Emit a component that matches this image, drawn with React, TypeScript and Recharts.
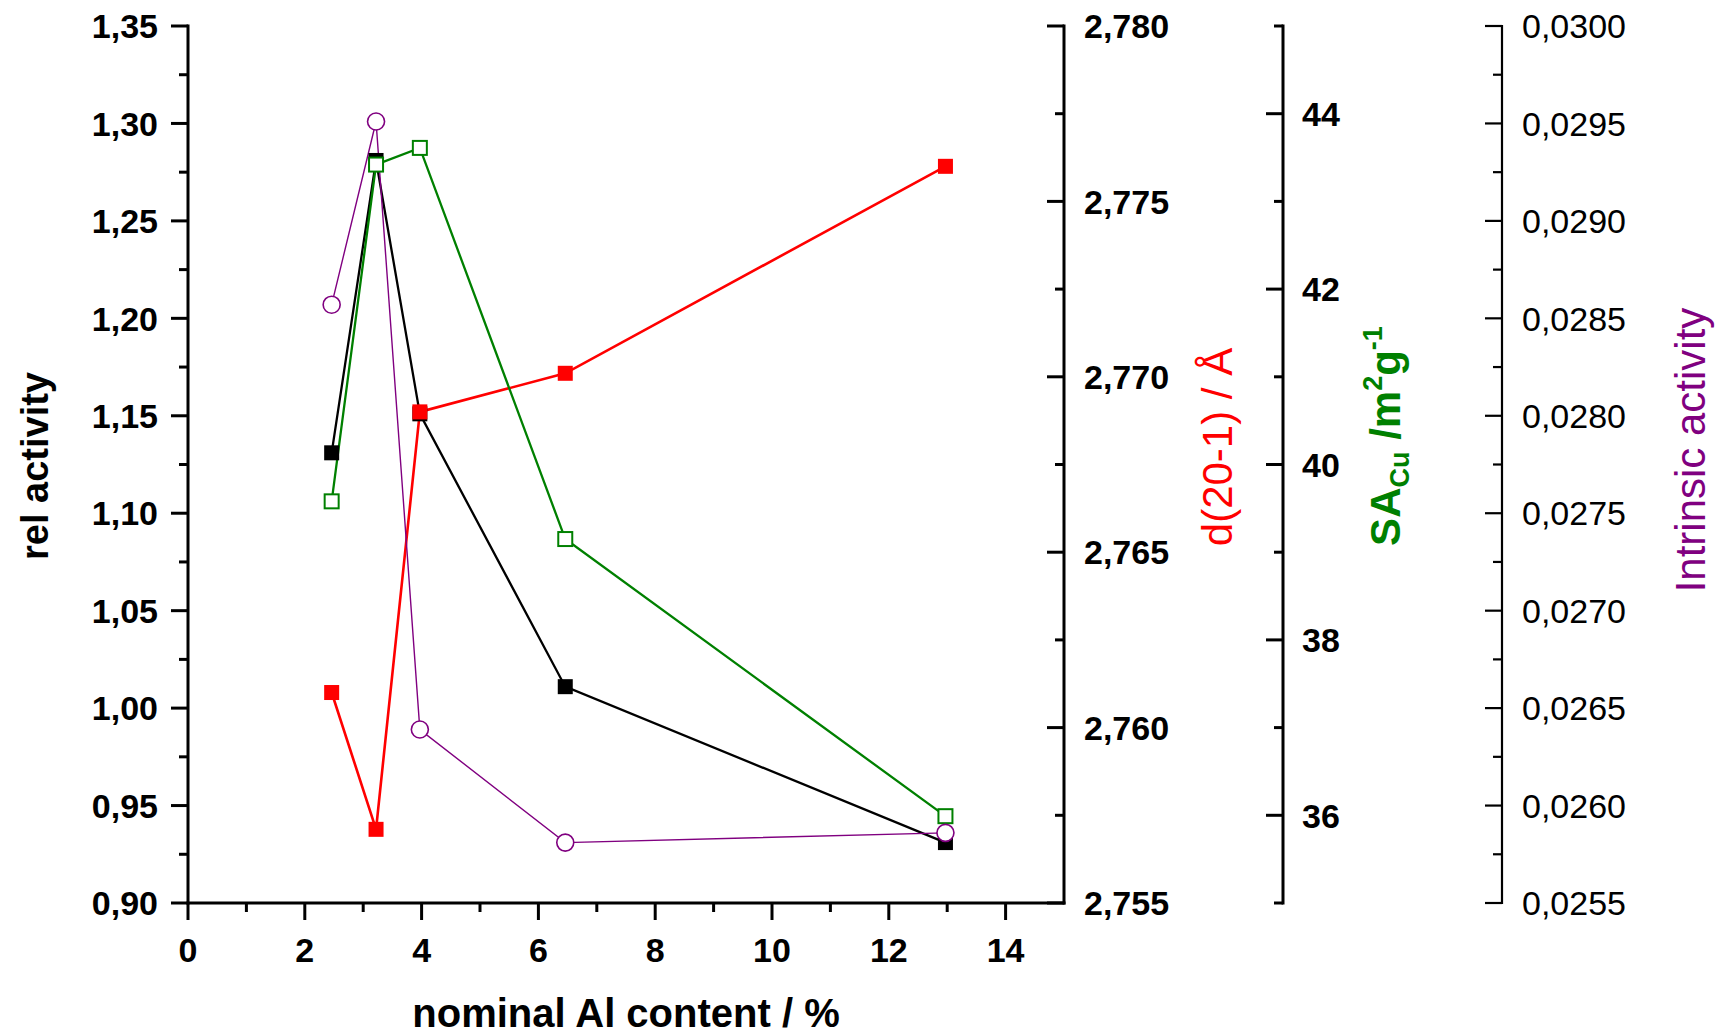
import React from "react";
import { LineChart, Line, XAxis, YAxis } from "recharts";

// nominal Al content (%) of the five samples
const AL_CONTENT = [2.46, 3.22, 3.97, 6.46, 12.97];
// series
const REL_ACTIVITY = [1.131, 1.281, 1.151, 1.011, 0.931];
const D_SPACING = [2.761, 2.7571, 2.769, 2.7701, 2.776];
const SA_CU = [39.58, 43.42, 43.61, 39.15, 35.99];
const INTRINSIC = [0.02857, 0.02951, 0.02639, 0.02581, 0.02586];

// ticks (major + minor) and the labelled majors
const X_TICKS = [0, 1, 2, 3, 4, 5, 6, 7, 8, 9, 10, 11, 12, 13, 14];
const X_MAJOR = [0, 2, 4, 6, 8, 10, 12, 14];
const REL_TICKS = [0.9, 0.925, 0.95, 0.975, 1.0, 1.025, 1.05, 1.075, 1.1, 1.125, 1.15, 1.175, 1.2, 1.225, 1.25, 1.275, 1.3, 1.325, 1.35];
const REL_MAJOR = [0.9, 0.95, 1.0, 1.05, 1.1, 1.15, 1.2, 1.25, 1.3, 1.35];
const D_TICKS = [2.755, 2.7575, 2.76, 2.7625, 2.765, 2.7675, 2.77, 2.7725, 2.775, 2.7775, 2.78];
const D_MAJOR = [2.755, 2.76, 2.765, 2.77, 2.775, 2.78];
const SA_TICKS = [35, 36, 37, 38, 39, 40, 41, 42, 43, 44, 45];
const SA_MAJOR = [36, 38, 40, 42, 44];
const INTR_TICKS = [0.0255, 0.02575, 0.026, 0.02625, 0.0265, 0.02675, 0.027, 0.02725, 0.0275, 0.02775, 0.028, 0.02825, 0.0285, 0.02875, 0.029, 0.02925, 0.0295, 0.02975, 0.03];
const INTR_MAJOR = [0.0255, 0.026, 0.0265, 0.027, 0.0275, 0.028, 0.0285, 0.029, 0.0295, 0.03];

const rows = AL_CONTENT.map((x, i) => ({
  x,
  rel: REL_ACTIVITY[i],
  d: D_SPACING[i],
  sa: SA_CU[i],
  intr: INTRINSIC[i],
}));

const FONT = "'Liberation Sans', Arial, sans-serif";
const comma = (digits: number) => (v: number) => v.toFixed(digits).replace(".", ",");

function makeTick(side: "left" | "right" | "bottom", majors: number[], fmt: (v: number) => string, margin: number, bold: boolean, sw: number) {
  return (p: any) => {
    const v = p.payload.value;
    const major = majors.some((m) => Math.abs(m - v) < 1e-9);
    const len = major ? 17 : 9;
    const textProps = { fontFamily: FONT, fontSize: 34, fontWeight: bold ? 700 : 400, fill: "#000" };
    if (side === "bottom") {
      const y0 = p.y - margin;
      return (
        <g>
          <line x1={p.x} x2={p.x} y1={y0} y2={y0 + len} stroke="#000" strokeWidth={sw} />
          {major && (
            <text x={p.x} y={p.y} dy={25} textAnchor="middle" {...textProps}>{fmt(v)}</text>
          )}
        </g>
      );
    }
    const ax = side === "left" ? p.x + margin : p.x - margin;
    return (
      <g>
        <line x1={ax - len} x2={ax} y1={p.y} y2={p.y} stroke="#000" strokeWidth={sw} />
        {major && (
          <text x={p.x} y={p.y} dy="0.36em" textAnchor={side === "left" ? "end" : "start"} {...textProps}>{fmt(v)}</text>
        )}
      </g>
    );
  };
}

const filledSquare = (color: string) => (p: any) => (
  <rect key={`f${p.index}`} x={p.cx - 7.5} y={p.cy - 7.5} width={15} height={15} fill={color} />
);
const openSquare = (color: string) => (p: any) => (
  <rect key={`o${p.index}`} x={p.cx - 7} y={p.cy - 7} width={14} height={14} fill="#fff" stroke={color} strokeWidth={2} />
);
const openCircle = (color: string) => (p: any) => (
  <circle key={`c${p.index}`} cx={p.cx} cy={p.cy} r={8.5} fill="#fff" stroke={color} strokeWidth={1.6} />
);

export default function App() {
  return (
    <div style={{ position: "relative", width: 1722, height: 1034 }}>
      <style>{"body{margin:0;background:#fff}"}</style>
      <LineChart width={1722} height={1034} data={rows} margin={{ top: 26, right: 0, bottom: 0, left: 0 }}>
        <XAxis
          type="number"
          dataKey="x"
          domain={[0, 15]}
          ticks={X_TICKS}
          interval={0}
          height={131}
          tickSize={0}
          tickMargin={34}
          tickLine={false}
          axisLine={{ stroke: "#000", strokeWidth: 3, strokeLinecap: "square" }}
          tick={makeTick("bottom", X_MAJOR, (v) => String(v), 34, true, 3)}
          allowDataOverflow
        />
        <YAxis
          yAxisId="left"
          orientation="left"
          width={188}
          domain={[0.9, 1.35]}
          ticks={REL_TICKS}
          interval={0}
          tickSize={0}
          tickMargin={30}
          tickLine={false}
          axisLine={{ stroke: "#000", strokeWidth: 3, strokeLinecap: "square" }}
          tick={makeTick("left", REL_MAJOR, comma(2), 30, true, 3)}
          allowDataOverflow
        />
        <YAxis
          yAxisId="r1"
          orientation="right"
          width={219}
          domain={[2.755, 2.78]}
          ticks={D_TICKS}
          interval={0}
          tickSize={0}
          tickMargin={20}
          tickLine={false}
          axisLine={{ stroke: "#000", strokeWidth: 3, strokeLinecap: "square" }}
          tick={makeTick("right", D_MAJOR, comma(3), 20, true, 3)}
          allowDataOverflow
        />
        <YAxis
          yAxisId="r2"
          orientation="right"
          width={219}
          domain={[35, 45]}
          ticks={SA_TICKS}
          interval={0}
          tickSize={0}
          tickMargin={19}
          tickLine={false}
          axisLine={{ stroke: "#000", strokeWidth: 3, strokeLinecap: "square" }}
          tick={makeTick("right", SA_MAJOR, (v) => String(v), 19, true, 3)}
          allowDataOverflow
        />
        <YAxis
          yAxisId="r3"
          orientation="right"
          width={220}
          domain={[0.0255, 0.03]}
          ticks={INTR_TICKS}
          interval={0}
          tickSize={0}
          tickMargin={20}
          tickLine={false}
          axisLine={{ stroke: "#000", strokeWidth: 2.2, strokeLinecap: "square" }}
          tick={makeTick("right", INTR_MAJOR, comma(4), 20, false, 2.2)}
          allowDataOverflow
        />
        <Line yAxisId="left" type="linear" dataKey="rel" stroke="#000" strokeWidth={2.3} dot={filledSquare("#000")} activeDot={false} isAnimationActive={false} />
        <Line yAxisId="r1" type="linear" dataKey="d" stroke="#ff0000" strokeWidth={2.6} dot={filledSquare("#ff0000")} activeDot={false} isAnimationActive={false} />
        <Line yAxisId="r2" type="linear" dataKey="sa" stroke="#008000" strokeWidth={2.3} dot={openSquare("#008000")} activeDot={false} isAnimationActive={false} />
        <Line yAxisId="r3" type="linear" dataKey="intr" stroke="#800080" strokeWidth={1.4} dot={openCircle("#800080")} activeDot={false} isAnimationActive={false} />
      </LineChart>
      <svg width={1722} height={1034} style={{ position: "absolute", left: 0, top: 0, pointerEvents: "none" }} fontFamily={FONT}>
        <text transform="translate(48,466) rotate(-90)" textAnchor="middle" fontSize={38} fontWeight={700} fill="#000">rel activity</text>
        <text x={626} y={1027} textAnchor="middle" fontSize={40} fontWeight={700} fill="#000">nominal Al content / %</text>
        <text transform="translate(1232,447) rotate(-90)" textAnchor="middle" fontSize={42} fill="#ff0000">d(20-1) / Å</text>
        <text transform="translate(1400,436) rotate(-90)" textAnchor="middle" fontSize={42} fontWeight={700} fill="#008000">
          SA<tspan fontSize={27} dy={9}>Cu</tspan>
          <tspan fontSize={42} dy={-9}> /m</tspan>
          <tspan fontSize={27} dy={-18}>2</tspan>
          <tspan fontSize={42} dy={18}>g</tspan>
          <tspan fontSize={27} dy={-18}>-1</tspan>
        </text>
        <text transform="translate(1705,450) rotate(-90)" textAnchor="middle" fontSize={42} fill="#800080">Intrinsic activity</text>
      </svg>
    </div>
  );
}
